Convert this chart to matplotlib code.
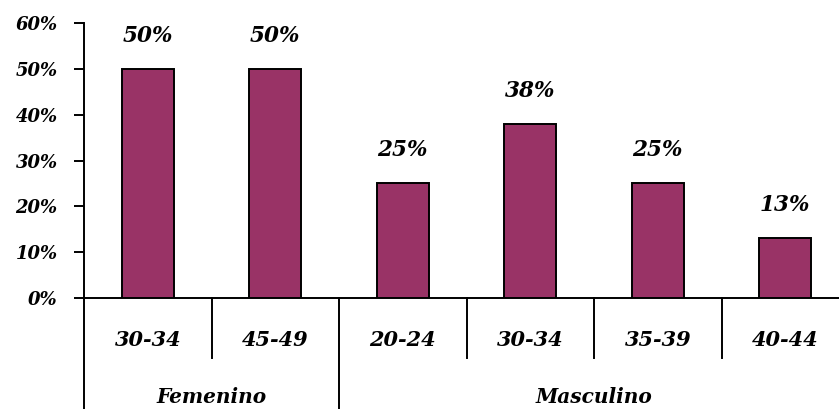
import matplotlib
matplotlib.use("Agg")
import matplotlib.pyplot as plt

# Data
groups = ["Femenino", "Masculino"]
group_sizes = [2, 4]
age_ranges = ["30-34", "45-49", "20-24", "30-34", "35-39", "40-44"]
shares = [0.50, 0.50, 0.25, 0.38, 0.25, 0.13]
y_ticks = [0.0, 0.1, 0.2, 0.3, 0.4, 0.5, 0.6]

BAR_COLOR = "#993366"
FONT = dict(family="DejaVu Serif", weight="bold", style="italic")

fig = plt.figure(figsize=(8.39, 4.09), dpi=100)
ax = fig.add_axes([84 / 839, 111 / 409, 755 / 839, 275 / 409])

x = list(range(len(shares)))
ax.bar(x, shares, width=0.41, color=BAR_COLOR, edgecolor="black", linewidth=1.4, zorder=3)

for xi, v in zip(x, shares):
    ax.annotate(f"{round(v * 100):d}%", (xi, v), xytext=(0, 16), textcoords="offset points",
                ha="center", va="bottom", fontsize=15.5, **FONT)

ax.set_xlim(-0.5, -0.5 + 755 / 127.5)
ax.set_ylim(0, 0.6)
ax.set_yticks(y_ticks)
ax.set_yticklabels([f"{round(t * 100):d}%" for t in y_ticks], fontdict=dict(size=13, **FONT))
ax.tick_params(axis="y", direction="out", length=7, width=1.4, pad=12)
ax.set_xticks([])

for side in ["top", "right"]:
    ax.spines[side].set_visible(False)
for side in ["left", "bottom"]:
    ax.spines[side].set_linewidth(1.4)

trans = ax.get_xaxis_transform()
short_bottom = -60 / 275
long_bottom = -111 / 275

# Category labels and dividers below the axis
for xi, lab in zip(x, age_ranges):
    ax.text(xi, -42 / 275, lab, transform=trans, ha="center", va="center",
            fontsize=15, **FONT, clip_on=False)

group_edges = [-0.5]
for n in group_sizes:
    group_edges.append(group_edges[-1] + n)

for b in range(1, len(shares)):
    pos = b - 0.5
    bottom = long_bottom if pos in group_edges else short_bottom
    ax.plot([pos, pos], [0, bottom], transform=trans, color="black", lw=1.4, clip_on=False)
ax.plot([-0.5, -0.5], [0, long_bottom], transform=trans, color="black", lw=1.4, clip_on=False)

for g, lo, hi in zip(groups, group_edges[:-1], group_edges[1:]):
    ax.text((lo + hi) / 2, -105 / 275, g, transform=trans, ha="center", va="baseline",
            fontsize=14.5, **FONT, clip_on=False)

fig.savefig("out.png", dpi=100)
